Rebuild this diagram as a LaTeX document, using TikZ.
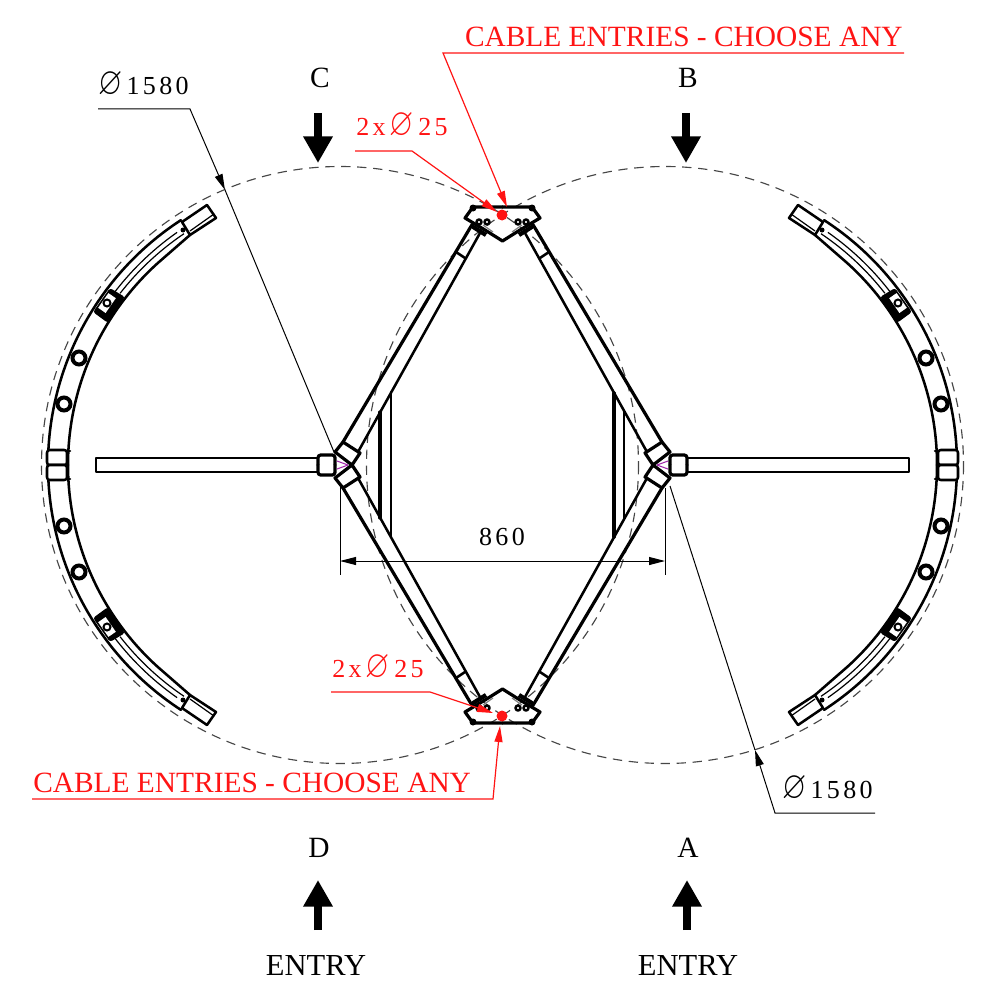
\documentclass[tikz,border=0pt]{standalone}
\usepackage{graphicx}
\usepackage{amssymb}
\usepackage{fontspec}
\usetikzlibrary{arrows.meta}
\setmainfont{Liberation Serif}
\newfontfamily\dimfont[LetterSpace=13]{Liberation Serif}
\definecolor{cablered}{RGB}{255,20,20}
\definecolor{hubpurple}{RGB}{160,40,170}
\newcommand{\dia}{\scalebox{1.2}[1.5]{$\varnothing$}\hspace{3pt}}
\tikzset{
  heavy/.style={line width=2.4pt,line join=round,line cap=round},
  ringline/.style={line width=1.9pt,line join=round,line cap=round},
  medium/.style={line width=1.9pt,line join=round,line cap=round},
  fine/.style={line width=0.9pt},
  centreline/.style={line width=0.85pt,draw={rgb,255:red,70;green,70;blue,70},dash pattern=on 7pt off 5pt},
  leader/.style={line width=0.75pt},
  leadertip/.style={leader,-{Triangle[length=12pt,width=6pt]}},
  redleader/.style={leadertip,line width=0.9pt,cablered},
  entryarrow/.style={line width=6.4pt,-{Triangle[length=20pt,width=21pt]}},
  labeltext/.style={font=\fontsize{22.05}{24}\selectfont,inner sep=0.75pt},
  entrytext/.style={font=\fontsize{22.9}{24}\selectfont,inner sep=0.75pt},
  dimtext/.style={font=\fontsize{19.5}{22}\dimfont,inner sep=0.75pt},
}
\begin{document}
\begin{tikzpicture}[x=0.75pt,y=0.75pt,yscale=-1,xscale=1]
\useasboundingbox (0,0) rectangle (989,1002);
%Shape: Circle
\draw [centreline] (340,465) circle [radius=298.5];
\draw [centreline] (665,465) circle [radius=298.5];
% one quarter of the frame, mirrored four times
\foreach \sx/\sy in {1/1,-1/1,1/-1,-1/-1}{
\begin{scope}[shift={(502.5,465)},xscale=\sx,yscale=\sy,shift={(-502.5,-465)}]
  %Shape: Ring
  \draw [ringline] (48,465) arc [start angle=180,end angle=237,radius=292];
  \draw [ringline] (68,465) arc [start angle=180,end angle=228,radius=272] -- (190,235);
  \draw [fine] (340,465) ++(218:279) arc [start angle=218,end angle=236,radius=279];
  \draw [fine] (340,465) ++(216:284) arc [start angle=216,end angle=235,radius=284];
  %Shape: Ring end
  \draw [ringline,fill=white] (182,222) -- (207,205) -- (216,218) -- (190,235) -- cycle;
  \draw [fine] (190,231) -- (214,214);
  \fill (183,230) circle [radius=2.5];
  %Shape: Ring bracket
  \fill [rounded corners=2pt] (93,312) -- (110,288) -- (125,297) -- (108,323) -- cycle;
  \fill [white] (108.4,293.1) -- (98.2,307.8) -- (105.6,313) -- (115.8,298.2) -- cycle;
  \draw [line width=1.5pt,fill=white] (107,303) circle [radius=3.5];
  %Shape: Nuts
  \draw [line width=3pt,fill=white] (79,358) circle [radius=6.5];
  \draw [line width=3pt,fill=white] (64,404) circle [radius=6.5];
  %Shape: Ring clamp
  \draw [ringline,fill=white,rounded corners=2pt] (47,465) -- (47,450) -- (67,450) -- (67,465) -- cycle;
  \draw [ringline] (67,451) -- (70,451);
  %Shape: Post
  \draw [ringline] (318,458) -- (96,458) -- (96,465);
  \draw [heavy,fill=white,rounded corners=2pt] (318,465) -- (318,455) -- (335,455) -- (335,465);
  %Shape: Strut
  \draw [heavy] (343,442) -- (470,228);
  \draw [medium] (358,452) -- (480,233);
  \draw [medium] (456,252) -- (465,258);
  %Shape: Hub
  \draw [heavy,fill=white] (335,452) -- (343,442) -- (360,453) -- (352,465) -- cycle;
  \draw [line width=0.8pt,hubpurple] (337,461) -- (348,465);
  %Shape: Top plate
  \draw [heavy] (502.5,207) -- (473,207) -- (465,218) -- (485,230) -- (502.5,241);
  \fill (473,208) circle [radius=3.5];
  \draw [line width=3.2pt] (470,225) -- (486,235);
  \draw [fine,gray] (483,225) -- (493,232);
  \draw [medium,fill=white] (479,222) circle [radius=2.5];
  \draw [medium,fill=white] (487,222) circle [radius=2.5];
\end{scope}
}
%Shape: Centre bars
\draw [heavy] (380,412) -- (380,518);
\draw [medium] (391,392) -- (391,537);
\draw [heavy] (614,393) -- (614,537);
\draw [medium] (624,411) -- (624,519);
%Shape: Cable entry dots
\fill [cablered] (502,215) circle [radius=5.5];
\fill [cablered] (502,716) circle [radius=5.5];

% Text Node
\node [labeltext] (labC) at (320,78) {C};
\node [labeltext] (labB) at (688,78) {B};
\node [labeltext] (labD) at (319,848) {D};
\node [labeltext] (labA) at (688,848) {A};
\node [entrytext] (entryD) at (316,965) {ENTRY};
\node [entrytext] (entryA) at (688,965) {ENTRY};
% Text Node
\node [dimtext] (dimwidth) at (502,537) {860};
\node [dimtext,anchor=base west] (diaC) at (97,95) {\dia 1580};
\node [dimtext,anchor=base west] (diaA) at (781,798) {\dia 1580};
% Text Node
\node [dimtext,text=cablered,anchor=base west] (holeB) at (355,136) {2x\,\dia 25};
\node [dimtext,text=cablered,anchor=base west] (holeD) at (331,677) {2x\,\dia 25};
\node [labeltext,text=cablered,anchor=east] (entriesB) at (904,37) {CABLE ENTRIES - CHOOSE ANY};
\node [labeltext,text=cablered,anchor=west] (entriesD) at (32,783) {CABLE ENTRIES - CHOOSE ANY};

%Straight Lines
\coordinate (tipC1) at (318,113);
\coordinate (tipC2) at (318,163);
\coordinate (tipB1) at (686,113);
\coordinate (tipB2) at (686,163);
\coordinate (tipD1) at (318,930);
\coordinate (tipD2) at (318,880);
\coordinate (tipA1) at (687,930);
\coordinate (tipA2) at (687,880);
\draw [entryarrow] (tipC1) -- (tipC2);
\draw [entryarrow] (tipB1) -- (tipB2);
\draw [entryarrow] (tipD1) -- (tipD2);
\draw [entryarrow] (tipA1) -- (tipA2);
%Straight Lines
\coordinate (ext1) at (340,487);
\coordinate (ext2) at (340,575);
\coordinate (ext3) at (665,488);
\coordinate (ext4) at (665,575);
\coordinate (dimL) at (340,561);
\coordinate (dimR) at (665,561);
\draw [leader] (ext1) -- (ext2);
\draw [leader] (ext3) -- (ext4);
\draw [leader,{Triangle[length=12pt,width=6pt]}-{Triangle[length=12pt,width=6pt]}] (dimL) -- (dimR);
%Straight Lines
\coordinate (diaC1) at (98,109);
\coordinate (diaC2) at (190,109);
\coordinate (diaC3) at (225,190);
\coordinate (diaC4) at (334,452);
\draw [leadertip] (diaC1) -- (diaC2) -- (diaC3);
\draw [leader] (diaC3) -- (diaC4);
\coordinate (diaA1) at (875,813);
\coordinate (diaA2) at (775,813);
\coordinate (diaA3) at (755,750);
\coordinate (diaA4) at (670,486);
\draw [leadertip] (diaA1) -- (diaA2) -- (diaA3);
\draw [leader] (diaA3) -- (diaA4);
%Straight Lines
\coordinate (holeB1) at (355,151);
\coordinate (holeB2) at (412,151);
\coordinate (holeB3) at (497,212);
\coordinate (holeD1) at (331,692);
\coordinate (holeD2) at (430,692);
\coordinate (holeD3) at (493,713);
\coordinate (entriesB1) at (904,53);
\coordinate (entriesB2) at (443,53);
\coordinate (entriesB3) at (507,207);
\coordinate (entriesD1) at (32,799);
\coordinate (entriesD2) at (493,799);
\coordinate (entriesD3) at (500,726);
\draw [redleader] (holeB1) -- (holeB2) -- (holeB3);
\draw [redleader] (holeD1) -- (holeD2) -- (holeD3);
\draw [redleader] (entriesB1) -- (entriesB2) -- (entriesB3);
\draw [redleader] (entriesD1) -- (entriesD2) -- (entriesD3);
\end{tikzpicture}
\end{document}
